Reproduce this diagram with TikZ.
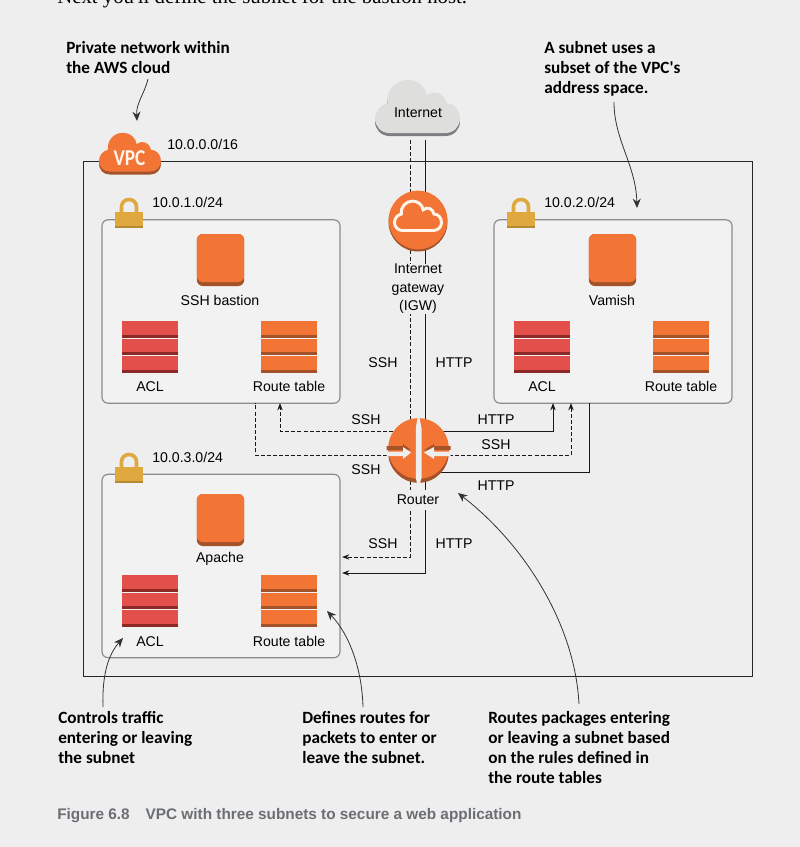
\documentclass[tikz,border=0pt]{standalone}
\usepackage{fontspec}
\setmainfont{Liberation Sans}
\newfontfamily\calloutfont{Carlito}[BoldFont={Carlito Bold}]
\newfontfamily\bodyfont{Liberation Serif}
\usetikzlibrary{arrows.meta,positioning}

\definecolor{pageBg}{HTML}{EEEEEE}
\definecolor{subnetBg}{HTML}{F2F2F2}
\definecolor{awsOrange}{HTML}{F37536}
\definecolor{awsBrown}{HTML}{A4522A}
\definecolor{aclRed}{HTML}{E34F4B}
\definecolor{aclDark}{HTML}{8C2826}
\definecolor{lockGold}{HTML}{DFA93F}
\definecolor{lockDark}{HTML}{B48A33}
\definecolor{cloudGrey}{HTML}{DEDEDC}
\definecolor{cloudDark}{HTML}{7C7F82}
\definecolor{captionGrey}{HTML}{6B6E73}

\newcommand{\pxSize}{0.75pt}
\newcommand{\conX}{410.7}
\newcommand{\conY}{425.7}

% Cloud outline, one unit wide:
\newcommand{\cloudPath}{(0.17,0) -- (0.83,0) .. controls (0.93,0) and (1,0.08) .. (1,0.17) .. controls (1,0.27) and (0.93,0.35) .. (0.84,0.35) .. controls (0.82,0.46) and (0.70,0.52) .. (0.61,0.44) .. controls (0.59,0.55) and (0.50,0.625) .. (0.385,0.625) .. controls (0.24,0.625) and (0.125,0.50) .. (0.145,0.35) .. controls (0.06,0.33) and (0,0.26) .. (0,0.17) .. controls (0,0.08) and (0.07,0) .. (0.17,0) -- cycle}
\newcommand{\cloudShape}[4]{%
  \begin{scope}[shift={(#1,#2)},x=#3*\pxSize,y=#3*\pxSize]
    \path[#4] \cloudPath;
  \end{scope}}

% Three slabs, top left corner given:
\newcommand{\slabStack}[4]{%
  \foreach \slabY/\slabH in {0/16.5,17.7/16.5,34.8/17.2} {
    \fill[#3] (#1,#2+\slabY) rectangle (#1+56,#2+\slabY+\slabH);
    \fill[#4] (#1,#2+\slabY+\slabH-3) rectangle (#1+56,#2+\slabY+\slabH);
  }}

% Padlock, left edge and top given:
\newcommand{\padLock}[2]{%
  \draw[lockGold,line width=3.6*\pxSize] (#1+6.5,#2+16) -- (#1+6.5,#2+10) .. controls (#1+6.5,#2+0) and (#1+21.5,#2+0) .. (#1+21.5,#2+10) -- (#1+21.5,#2+16);
  \fill[lockGold] (#1,#2+15) rectangle (#1+28,#2+31);
  \fill[lockDark] (#1,#2+29) rectangle (#1+28,#2+31);}

\tikzset{
  lbl/.style={font=\fontsize{10.6}{13.9}\selectfont,inner sep=0pt,anchor=base,align=center,yshift=-0.7pt},
  callout/.style={font=\calloutfont\bfseries\fontsize{12.9}{15}\selectfont,inner sep=0pt,anchor=north west,align=left},
  conn/.style={line width=0.75pt,black!90},
  connDash/.style={conn,dash pattern=on 3pt off 1.6pt},
  tipped/.style={-{Stealth[length=5.5pt,width=4pt]}},
  pointer/.style={line width=0.6pt,black!80,-{Stealth[length=7pt,width=6pt]}},
  subnet/.style={draw=black!45,line width=0.9pt,fill=subnetBg,rounded corners=4.5pt,minimum width=178.5pt,minimum height=137.5pt,inner sep=0pt},
  instance/.style={fill=awsBrown,rounded corners=4.5pt,minimum width=35.5pt,minimum height=39pt,inner sep=0pt},
  instanceTop/.style={fill=awsOrange,rounded corners=4.5pt,minimum width=35.5pt,minimum height=36pt,inner sep=0pt},
  mask/.style={lbl,fill=pageBg,anchor=center,yshift=0pt}
}

\begin{document}
\begin{tikzpicture}[x=\pxSize,y=-\pxSize]

  % Page:
  \fill[pageBg] (0,0) rectangle (800,847);
  \useasboundingbox (0,0) rectangle (800,847);
  \node[font=\bodyfont\fontsize{15.6}{17}\selectfont,inner sep=0pt,anchor=base west] (leadLine) at (57,3) {Next you'll define the subnet for the bastion host.};

  % VPC and subnets:
  \draw[line width=0.75pt,black!85] (83,161) rectangle (752,676);
  \node[subnet] (subnetA) at (221,311.5) {};
  \node[subnet] (subnetB) at (613,311.5) {};
  \node[subnet] (subnetC) at (221,566) {};

  % Connector ends:
  \coordinate (netDash)  at (\conX,140);
  \coordinate (netLine)  at (\conY,140);
  \coordinate (rtrDash)  at (\conX,450);
  \coordinate (rtrLine)  at (\conY,450);
  \coordinate (downDash) at (342,557);
  \coordinate (downLine) at (342,573);
  \coordinate (rtrAR)    at (418,431);
  \coordinate (rtrBR)    at (418,455);
  \coordinate (rtrCR)    at (418,472);
  \coordinate (aclIn)    at (553,403);
  \coordinate (aclSsh)   at (571,403);
  \coordinate (vamOut)   at (589,403);
  \coordinate (rtIn)     at (280,403);
  \coordinate (rtOut)    at (255,403);

  % Connectors:
  \draw[connDash] (netDash) -- (rtrDash);
  \draw[conn] (netLine) -- (rtrLine);
  \draw[connDash,tipped] (rtrDash) |- (downDash);
  \draw[conn,tipped] (rtrLine) |- (downLine);
  \draw[conn,tipped] (rtrAR) -| (aclIn);
  \draw[connDash,tipped] (rtrBR) -| (aclSsh);
  \draw[conn] (rtrCR) -| (vamOut);
  \draw[connDash,tipped] (rtrAR) -| (rtIn);
  \draw[connDash] (rtrBR) -| (rtOut);

  % Clouds:
  \cloudShape{99}{174.5}{62}{fill=awsBrown}
  \cloudShape{99}{171.5}{62}{fill=awsOrange}
  \node[font=\calloutfont\bfseries\fontsize{17}{17}\selectfont,text=white!92!orange,inner sep=0pt] (vpcText) at (129.5,158) {\scalebox{0.85}[1]{VPC}};
  \node[lbl,anchor=base west] (vpcCidr) at (167,149) {10.0.0.0/16};
  \cloudShape{375}{136}{85}{fill=cloudDark}
  \cloudShape{375}{133}{85}{fill=cloudGrey}
  \node[lbl] (internet) at (418,117) {Internet};

  % Gateway:
  \fill[awsBrown] (418,222) circle [radius=29.5];
  \node[circle,fill=awsOrange,minimum size=44pt,inner sep=0pt] (gateway) at (418,220) {};
  \cloudShape{394.5}{230.5}{47}{fill=awsOrange,draw=white!92!orange,line width=2.2pt}
  \node[mask] (gatewayText) at (418,288) {Internet\\gateway\\(IGW)};

  % Subnet icons:
  \node[instance] (bastion) at (220.5,260) {};
  \node[instanceTop] (bastionTop) at (220.5,258) {};
  \node[lbl] at (220,305) (bastionText) {SSH bastion};
  \node[instance] (varnish) at (612.5,260) {};
  \node[instanceTop] (varnishTop) at (612.5,258) {};
  \node[lbl] at (612,305) (varnishText) {Vamish};
  \node[instance] (apache) at (220.5,520) {};
  \node[instanceTop] (apacheTop) at (220.5,518) {};
  \node[lbl] at (220,562) (apacheText) {Apache};
  \slabStack{122}{321}{aclRed}{aclDark}
  \slabStack{261}{321}{awsOrange}{awsBrown}
  \slabStack{514}{321}{aclRed}{aclDark}
  \slabStack{653}{321}{awsOrange}{awsBrown}
  \slabStack{122}{575}{aclRed}{aclDark}
  \slabStack{261}{575}{awsOrange}{awsBrown}
  \node[lbl] (aclA) at (150,391) {ACL};
  \node[lbl] (tableA) at (289,391) {Route table};
  \node[lbl] (aclB) at (542,391) {ACL};
  \node[lbl] (tableB) at (681,391) {Route table};
  \node[lbl] (aclC) at (150,646) {ACL};
  \node[lbl] (tableC) at (289,646) {Route table};

  % Locks:
  \padLock{115}{197}
  \padLock{507}{197}
  \padLock{115}{452}
  \node[lbl,anchor=base west] (cidrA) at (152,207) {10.0.1.0/24};
  \node[lbl,anchor=base west] (cidrB) at (544,207) {10.0.2.0/24};
  \node[lbl,anchor=base west] (cidrC) at (152,462) {10.0.3.0/24};

  % Router:
  \fill[awsBrown] (418.5,452.5) circle [radius=30.3];
  \node[circle,fill=awsOrange,minimum size=45.5pt,inner sep=0pt] (router) at (418.5,448.5) {};
  \fill[pageBg] (415.8,428) -- (415.8,478) -- (417,483) -- (420,483) -- (421.5,478) -- (421.5,428) -- (419.5,418) -- (417.5,418) -- cycle;
  \fill[awsBrown] (386.5,446) rectangle (403,450) -- (403,444) -- (411,450) -- (403,450) -- cycle;
  \fill[awsBrown] (450.5,446) rectangle (434,450) -- (434,444) -- (424,450) -- (434,450) -- cycle;
  \fill[pageBg] (386.5,451.5) rectangle (403,456) -- (403,459) -- (411,452.5) -- (403,447) -- cycle;
  \fill[pageBg] (450.5,451.5) rectangle (434,456) -- (434,459) -- (424,452.5) -- (434,447) -- cycle;
  \node[mask,minimum height=15.5pt,inner xsep=1pt] (routerText) at (418,499) {Router};

  % Traffic labels:
  \node[lbl] (sshUp) at (383,367) {SSH};
  \node[lbl] (httpUp) at (454,367) {HTTP};
  \node[lbl] (sshA) at (366,424) {SSH};
  \node[lbl] (sshB) at (366,474) {SSH};
  \node[lbl] (httpA) at (496,424) {HTTP};
  \node[lbl] (sshC) at (496,449) {SSH};
  \node[lbl] (httpB) at (496,490) {HTTP};
  \node[lbl] (sshDown) at (383,548) {SSH};
  \node[lbl] (httpDown) at (454,548) {HTTP};

  % Callouts:
  \node[callout] (noteVpc) at (66,41) {Private network within\\the AWS cloud};
  \node[callout] (noteSubnet) at (544,41) {A subnet uses a\\subset of the VPC's\\address space.};
  \node[callout] (noteAcl) at (58,711) {Controls traffic\\entering or leaving\\the subnet};
  \node[callout] (noteTable) at (302,711) {Defines routes for\\packets to enter or\\leave the subnet.};
  \node[callout] (noteRouter) at (488,711) {Routes packages entering\\or leaving a subnet based\\on the rules defined in\\the route tables};

  \coordinate (vpcTip) at (137,121);
  \coordinate (subnetTip) at (637,208);
  \coordinate (aclTip) at (123,638);
  \coordinate (tableTip) at (327,611);
  \coordinate (routerTip) at (458,493);
  \draw[pointer] (148,79) .. controls (144,95) and (136,103) .. (vpcTip);
  \draw[pointer] (614,102) .. controls (614,140) and (636,165) .. (subnetTip);
  \draw[pointer] (103,707) .. controls (102,675) and (108,655) .. (aclTip);
  \draw[pointer] (363,707) .. controls (362,670) and (350,635) .. (tableTip);
  \draw[pointer] (579,704) .. controls (575,625) and (525,545) .. (routerTip);

  % Caption:
  \node[font=\bfseries\fontsize{11.5}{13}\selectfont,text=captionGrey,inner sep=0pt,anchor=base west] (caption) at (57,819) {Figure 6.8\hspace{12pt}VPC with three subnets to secure a web application};

\end{tikzpicture}
\end{document}
